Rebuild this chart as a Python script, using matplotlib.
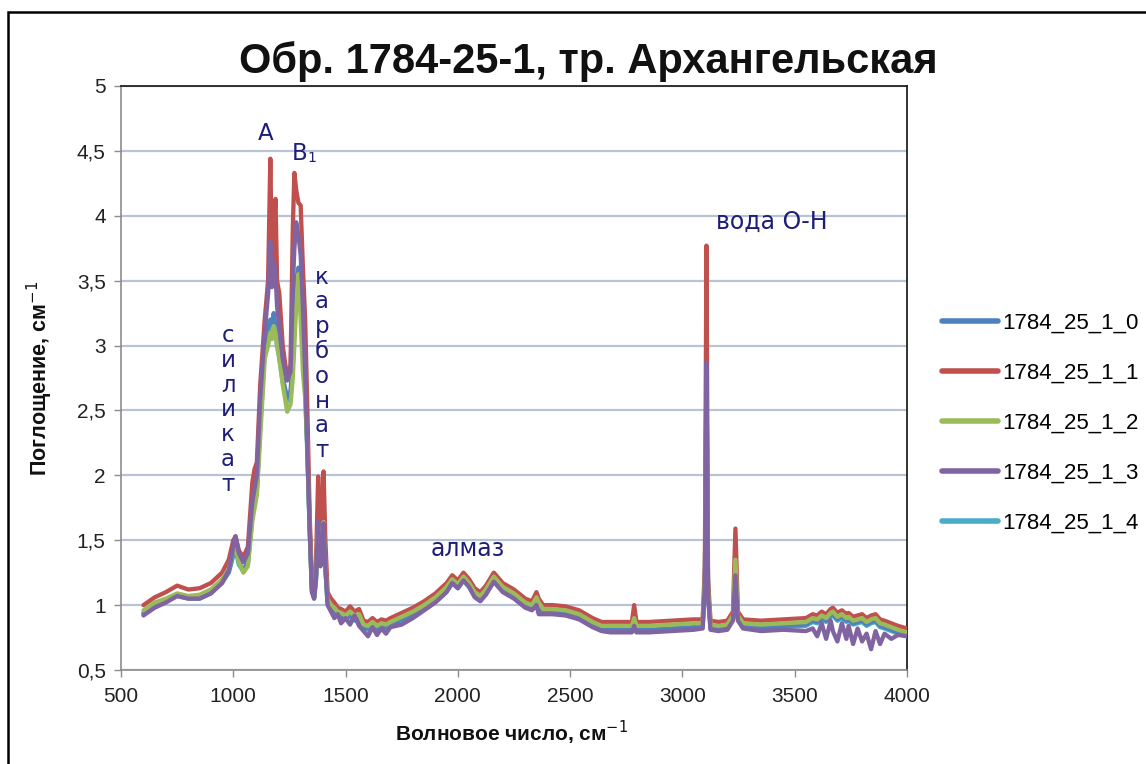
import matplotlib
matplotlib.use("Agg")
import matplotlib.pyplot as plt
from matplotlib.patches import Rectangle
from matplotlib.ticker import FuncFormatter

# ---------------- data ----------------
wavenumber = [600, 650, 700, 750, 800, 850, 900, 950, 980, 1000, 1010, 1025, 1045, 1065, 1085,
              1095, 1105, 1120, 1140, 1155, 1165, 1172, 1180, 1188, 1195, 1205, 1220, 1240, 1255,
              1265, 1272, 1280, 1290, 1300, 1310, 1320, 1330, 1340, 1350, 1360, 1368, 1378, 1388,
              1395, 1402, 1410, 1420, 1435, 1450, 1465, 1480, 1500, 1520, 1540, 1560, 1580, 1600,
              1620, 1640, 1660, 1680, 1700, 1750, 1800, 1850, 1900, 1950, 1975, 2000, 2025, 2050,
              2075, 2100, 2125, 2160, 2200, 2250, 2300, 2330, 2350, 2360, 2380, 2420, 2480, 2540,
              2600, 2640, 2680, 2740, 2775, 2785, 2795, 2850, 2950, 3050, 3090, 3100, 3107, 3114,
              3125, 3160, 3200, 3225, 3236, 3247, 3270, 3350, 3450, 3550, 3580, 3600, 3620, 3640,
              3660, 3670, 3690, 3710, 3730, 3740, 3760, 3780, 3800, 3820, 3840, 3860, 3880, 3900,
              3930, 3960, 4000]

s_1784_25_1_1 = [1.00, 1.06, 1.10, 1.15, 1.12, 1.13, 1.17, 1.25, 1.35, 1.50, 1.53, 1.42, 1.37, 1.45, 1.95,
                 2.05, 2.10, 2.70, 3.20, 3.50, 4.44, 3.60, 3.90, 4.13, 3.50, 3.40, 3.00, 2.75, 2.85,
                 3.90, 4.33, 4.20, 4.10, 4.08, 3.60, 3.20, 2.50, 1.70, 1.20, 1.10, 1.30, 1.99, 1.60,
                 1.70, 2.03, 1.50, 1.10, 1.05, 1.02, 0.98, 0.97, 0.95, 0.99, 0.95, 0.97, 0.88, 0.87,
                 0.90, 0.87, 0.89, 0.88, 0.90, 0.94, 0.98, 1.03, 1.09, 1.17, 1.23, 1.19, 1.25, 1.20,
                 1.13, 1.10, 1.15, 1.25, 1.17, 1.12, 1.05, 1.03, 1.10, 1.05, 1.00, 1.00, 0.99, 0.96,
                 0.90, 0.87, 0.87, 0.87, 0.87, 1.00, 0.87, 0.87, 0.88, 0.89, 0.89, 1.30, 3.77, 1.20,
                 0.88, 0.87, 0.88, 0.95, 1.59, 0.95, 0.89, 0.88, 0.89, 0.90, 0.93, 0.92, 0.95, 0.93,
                 0.97, 0.98, 0.94, 0.96, 0.93, 0.94, 0.91, 0.92, 0.93, 0.90, 0.92, 0.93, 0.89, 0.88,
                 0.86, 0.84, 0.82]

s_1784_25_1_2 = [0.96, 1.02, 1.05, 1.09, 1.07, 1.08, 1.12, 1.20, 1.28, 1.42, 1.45, 1.33, 1.25, 1.30, 1.65,
                 1.75, 1.85, 2.30, 2.90, 3.00, 3.10, 3.05, 3.15, 3.10, 3.00, 2.90, 2.70, 2.49, 2.55,
                 2.75, 3.00, 3.30, 3.55, 3.20, 2.80, 2.60, 2.20, 1.60, 1.15, 1.08, 1.20, 1.62, 1.35,
                 1.40, 1.64, 1.30, 1.05, 1.00, 0.98, 0.95, 0.94, 0.92, 0.95, 0.92, 0.93, 0.85, 0.84,
                 0.87, 0.84, 0.86, 0.85, 0.87, 0.91, 0.95, 1.00, 1.06, 1.14, 1.20, 1.16, 1.22, 1.17,
                 1.10, 1.07, 1.12, 1.22, 1.14, 1.09, 1.02, 1.00, 1.06, 1.02, 0.97, 0.97, 0.96, 0.93,
                 0.87, 0.84, 0.84, 0.84, 0.84, 0.90, 0.84, 0.84, 0.85, 0.86, 0.86, 1.20, 2.80, 1.12,
                 0.85, 0.84, 0.85, 0.92, 1.35, 0.92, 0.86, 0.85, 0.86, 0.87, 0.90, 0.89, 0.92, 0.90,
                 0.94, 0.95, 0.91, 0.93, 0.90, 0.91, 0.88, 0.89, 0.90, 0.87, 0.89, 0.90, 0.86, 0.85,
                 0.83, 0.81, 0.79]

s_1784_25_1_3 = [0.92, 0.98, 1.02, 1.07, 1.05, 1.05, 1.09, 1.17, 1.27, 1.45, 1.53, 1.40, 1.33, 1.40, 1.80,
                 1.90, 2.00, 2.60, 3.10, 3.40, 3.80, 3.45, 3.65, 3.55, 3.30, 3.15, 2.90, 2.73, 2.80,
                 3.45, 3.75, 3.95, 3.85, 3.70, 3.30, 2.80, 2.20, 1.60, 1.10, 1.05, 1.20, 1.65, 1.30,
                 1.35, 1.63, 1.30, 1.00, 0.95, 0.90, 0.93, 0.86, 0.90, 0.85, 0.92, 0.84, 0.80, 0.76,
                 0.83, 0.77, 0.82, 0.78, 0.83, 0.85, 0.90, 0.96, 1.02, 1.10, 1.17, 1.13, 1.19, 1.14,
                 1.06, 1.03, 1.08, 1.18, 1.10, 1.05, 0.98, 0.96, 1.00, 0.93, 0.93, 0.93, 0.92, 0.89,
                 0.83, 0.80, 0.79, 0.79, 0.79, 0.84, 0.79, 0.79, 0.80, 0.81, 0.82, 1.15, 2.87, 1.08,
                 0.81, 0.80, 0.81, 0.88, 1.23, 0.88, 0.82, 0.80, 0.81, 0.80, 0.82, 0.76, 0.86, 0.74,
                 0.88, 0.80, 0.72, 0.86, 0.74, 0.84, 0.70, 0.82, 0.72, 0.78, 0.66, 0.80, 0.70, 0.78,
                 0.74, 0.77, 0.76]

s_1784_25_1_0 = [0.94, 1.00, 1.04, 1.08, 1.06, 1.06, 1.10, 1.18, 1.26, 1.40, 1.45, 1.33, 1.27, 1.33, 1.70,
                 1.80, 1.90, 2.40, 3.00, 3.15, 3.20, 3.15, 3.25, 3.15, 3.05, 2.95, 2.75, 2.60, 2.65,
                 2.90, 3.20, 3.50, 3.60, 3.40, 3.00, 2.70, 2.20, 1.60, 1.12, 1.06, 1.20, 1.60, 1.32,
                 1.38, 1.62, 1.30, 1.02, 0.97, 0.95, 0.93, 0.91, 0.90, 0.92, 0.89, 0.90, 0.83, 0.82,
                 0.85, 0.82, 0.84, 0.83, 0.85, 0.89, 0.93, 0.98, 1.04, 1.12, 1.18, 1.14, 1.20, 1.15,
                 1.08, 1.05, 1.10, 1.20, 1.12, 1.07, 1.00, 0.98, 1.03, 0.99, 0.95, 0.95, 0.94, 0.91,
                 0.85, 0.82, 0.81, 0.81, 0.81, 0.86, 0.81, 0.81, 0.82, 0.83, 0.84, 1.15, 2.80, 1.10,
                 0.83, 0.82, 0.83, 0.90, 1.28, 0.90, 0.84, 0.83, 0.84, 0.85, 0.88, 0.87, 0.90, 0.88,
                 0.92, 0.93, 0.89, 0.91, 0.88, 0.89, 0.86, 0.87, 0.88, 0.85, 0.87, 0.88, 0.84, 0.83,
                 0.81, 0.79, 0.77]

s_1784_25_1_4 = [0.93, 0.99, 1.03, 1.07, 1.05, 1.05, 1.09, 1.17, 1.25, 1.38, 1.43, 1.31, 1.26, 1.32, 1.68,
                 1.78, 1.88, 2.38, 2.95, 3.10, 3.15, 3.10, 3.20, 3.10, 3.00, 2.90, 2.72, 2.57, 2.62,
                 2.85, 3.15, 3.45, 3.55, 3.35, 2.95, 2.65, 2.15, 1.58, 1.11, 1.05, 1.18, 1.58, 1.30,
                 1.36, 1.60, 1.28, 1.01, 0.96, 0.94, 0.92, 0.90, 0.89, 0.91, 0.88, 0.89, 0.82, 0.81,
                 0.84, 0.81, 0.83, 0.82, 0.84, 0.88, 0.92, 0.97, 1.03, 1.11, 1.17, 1.13, 1.19, 1.14,
                 1.07, 1.04, 1.09, 1.19, 1.11, 1.06, 0.99, 0.97, 1.02, 0.98, 0.94, 0.94, 0.93, 0.90,
                 0.84, 0.81, 0.80, 0.80, 0.80, 0.85, 0.80, 0.80, 0.81, 0.82, 0.83, 1.12, 2.75, 1.08,
                 0.82, 0.81, 0.82, 0.89, 1.25, 0.89, 0.83, 0.82, 0.83, 0.84, 0.87, 0.86, 0.89, 0.87,
                 0.91, 0.92, 0.88, 0.90, 0.87, 0.88, 0.85, 0.86, 0.87, 0.84, 0.86, 0.87, 0.83, 0.82,
                 0.80, 0.78, 0.76]

series_names = ["1784_25_1_0", "1784_25_1_1", "1784_25_1_2", "1784_25_1_3", "1784_25_1_4"]
series_values = [s_1784_25_1_0, s_1784_25_1_1, s_1784_25_1_2, s_1784_25_1_3, s_1784_25_1_4]
series_colors = ["#4F81BD", "#C0504D", "#9BBB59", "#8064A2", "#4BACC6"]
draw_order = [4, 0, 1, 2, 3]

x_ticks = [500, 1000, 1500, 2000, 2500, 3000, 3500, 4000]
y_ticks = [0.5, 1, 1.5, 2, 2.5, 3, 3.5, 4, 4.5, 5]

title_text = "Обр. 1784-25-1, тр. Архангельская"
xlabel_text = "Волновое число, см$^{-1}$"
ylabel_text = "Поглощение, см$^{-1}$"

# ---------------- figure ----------------
W, H = 1146, 764
fig = plt.figure(figsize=(W / 100, H / 100), dpi=100)
sans = ["Liberation Sans", "DejaVu Sans"]
plain = ["DejaVu Sans"]
navy = "#1E1E78"

ax = fig.add_axes([121 / W, 1 - 670 / H, (907 - 121) / W, (670 - 86) / H])

lines = {}
for k, i in enumerate(draw_order):
    ln, = ax.plot(wavenumber, series_values[i], color=series_colors[i], lw=3.1,
                  solid_joinstyle="round", solid_capstyle="round", zorder=3 + k)
    lines[i] = ln

ax.set_xlim(500, 4000)
ax.set_ylim(0.5, 5)
ax.set_xticks(x_ticks)
ax.set_yticks(y_ticks)
ax.yaxis.set_major_formatter(FuncFormatter(lambda v, p: (f"{v:g}").replace(".", ",")))
ax.grid(axis="y", color="#B9C3D6", lw=1.6, zorder=0)
ax.set_axisbelow(True)
for sp in ["left", "bottom"]:
    ax.spines[sp].set_color("#8C8C8C")
    ax.spines[sp].set_linewidth(1.2)
for sp in ["top", "right"]:
    ax.spines[sp].set_color("#222222")
    ax.spines[sp].set_linewidth(1.3)
ax.tick_params(axis="both", direction="out", length=5, color="#8C8C8C", width=1.0,
               labelsize=15, labelcolor="#222222")
ax.tick_params(axis="x", pad=7)
ax.tick_params(axis="y", pad=6)
for lab in ax.get_xticklabels() + ax.get_yticklabels():
    lab.set_family(sans)

# title & axis labels
fig.text(588 / W, 1 - 62 / H, title_text, ha="center", va="center", fontsize=30,
         fontweight="bold", family=sans, color="#111111")
fig.text(511 / W, 1 - 733 / H, xlabel_text, ha="center", va="center", fontsize=15,
         fontweight="bold", family=sans, color="#111111")
fig.text(40 / W, 1 - 378 / H, ylabel_text, ha="center", va="center", fontsize=15.5,
         fontweight="bold", family=sans, color="#111111", rotation=90)

# annotations
def ftext(px, py, s, **kw):
    fig.text(px / W, 1 - py / H, s, color=navy, family=plain, **kw)

ftext(266, 133, "А", fontsize=16.5, ha="center", va="center")
ftext(300, 153, "В", fontsize=16.5, ha="center", va="center")
ftext(312, 158, "1", fontsize=10, ha="center", va="center")
ftext(772, 222, "вода О-Н", fontsize=17, ha="center", va="center")
ftext(468, 549, "алмаз", fontsize=17, ha="center", va="center")
ftext(228, 410, "\n".join("силикат"), fontsize=16.5, ha="center", va="center", linespacing=1.1)
ftext(322, 364, "\n".join("карбонат"), fontsize=16.5, ha="center", va="center", linespacing=1.1)

# legend (built by the library from the plotted lines)
leg = fig.legend([lines[i] for i in range(5)], series_names,
                 loc="center left", bbox_to_anchor=(922 / W, 1 - 423 / H),
                 frameon=False, handlelength=2.5, handletextpad=0.2,
                 labelspacing=1.3, prop={"family": sans, "size": 16})
for h in leg.get_lines():
    h.set_linewidth(4)

# outer frame
fig.patches.append(Rectangle((8 / W, -0.05), 1.1, 1 - 12 / H + 0.05, transform=fig.transFigure,
                             fill=False, ec="black", lw=1.8))

fig.savefig("out.png", dpi=100)
